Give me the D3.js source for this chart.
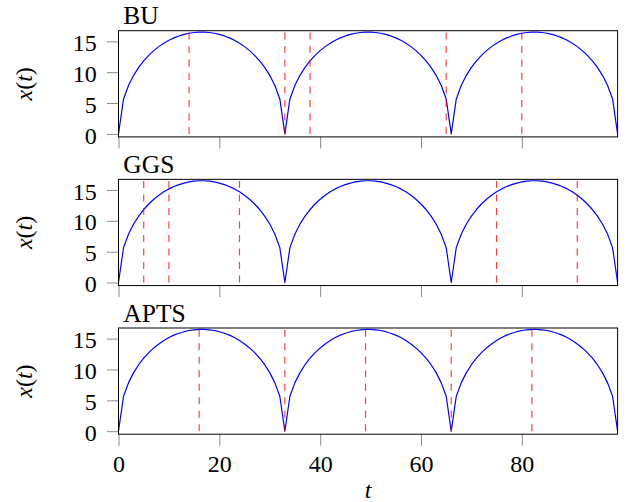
<!DOCTYPE html>
<html>
<head>
<meta charset="utf-8">
<script src="https://cdn.jsdelivr.net/npm/d3@7"></script>
<style>
  html, body { margin: 0; padding: 0; background: #fff; }
  svg { display: block; }
  svg text { font-family: 'Liberation Serif', 'Times New Roman', serif !important; fill: #000; }
</style>
</head>
<body>
<svg id="chart" width="627" height="502"></svg>
<script>
// Time axis: t = 0 .. 99
const tValues = d3.range(0, 100);

// Trajectory x(t): three arches, each returning to zero at t = 33, 66, 99
const xValues = [
  0, 5.66, 7.87, 9.49, 10.77, 11.83, 12.73, 13.49, 14.14, 14.70,
  15.17, 15.56, 15.87, 16.12, 16.31, 16.43, 16.49, 16.49, 16.43, 16.31,
  16.12, 15.87, 15.56, 15.17, 14.70, 14.14, 13.49, 12.73, 11.83, 10.77,
  9.49, 7.87, 5.66, 0, 5.66, 7.87, 9.49, 10.77, 11.83, 12.73,
  13.49, 14.14, 14.70, 15.17, 15.56, 15.87, 16.12, 16.31, 16.43, 16.49,
  16.49, 16.43, 16.31, 16.12, 15.87, 15.56, 15.17, 14.70, 14.14, 13.49,
  12.73, 11.83, 10.77, 9.49, 7.87, 5.66, 0, 5.66, 7.87, 9.49,
  10.77, 11.83, 12.73, 13.49, 14.14, 14.70, 15.17, 15.56, 15.87, 16.12,
  16.31, 16.43, 16.49, 16.49, 16.43, 16.31, 16.12, 15.87, 15.56, 15.17,
  14.70, 14.14, 13.49, 12.73, 11.83, 10.77, 9.49, 7.87, 5.66, 0
];

// Sampling instants chosen by each method
const panelTitles = ["BU", "GGS", "APTS"];
const buTimes   = [14, 33, 38, 65, 80];
const ggsTimes  = [5, 10, 24, 75, 91];
const aptsTimes = [16, 33, 49, 66, 82];
const sampleTimes = [buTimes, ggsTimes, aptsTimes];

// Tick labels
const xTicks = [0, 20, 40, 60, 80];
const yTicks = [0, 5, 10, 15];

const svg = d3.select("#chart");

const left = 118.5, right = 617.6;
const panelTop0 = 30.7, panelStep = 148.65, panelH = 106.2;
const tickLen = 11.5;
const fontSize = 24;
const serif = "'Liberation Serif', 'Times New Roman', serif";

const x = d3.scaleLinear().domain([0, 99]).range([left, right]);

const series = tValues.map((t, i) => ({ t, v: xValues[i] }));

panelTitles.forEach((title, i) => {
  const top = panelTop0 + i * panelStep;
  const bottom = top + panelH;
  const y = d3.scaleLinear().domain([-0.49, 16.72]).range([bottom, top]);
  const isLast = i === panelTitles.length - 1;

  const g = svg.append("g");

  // y axis
  const yAxis = g.append("g")
    .attr("transform", `translate(${left},0)`)
    .call(d3.axisLeft(y).tickValues(yTicks).tickSize(tickLen).tickPadding(10.3));
  yAxis.attr("font-family", null).attr("font-size", null);
  yAxis.select(".domain").remove();
  yAxis.selectAll(".tick line").attr("stroke", "#8a8a8a").attr("stroke-width", 1);
  yAxis.selectAll(".tick text")
    .style("font-family", serif)
    .style("font-size", fontSize + "px")
    .attr("dy", "0.38em")
    .attr("fill", "#000");

  // x axis (labels only on the bottom panel)
  const xAxis = g.append("g")
    .attr("transform", `translate(0,${bottom})`)
    .call(d3.axisBottom(x).tickValues(xTicks).tickSize(tickLen).tickPadding(9.5)
      .tickFormat(isLast ? d3.format("d") : () => ""));
  xAxis.attr("font-family", null).attr("font-size", null);
  xAxis.select(".domain").remove();
  xAxis.selectAll(".tick line").attr("stroke", "#8a8a8a").attr("stroke-width", 1);
  xAxis.selectAll(".tick text")
    .style("font-family", serif)
    .style("font-size", fontSize + "px")
    .attr("fill", "#000");

  // clip to the plot box
  const clipId = "clip" + i;
  svg.append("clipPath").attr("id", clipId)
    .append("rect")
    .attr("x", left).attr("y", top)
    .attr("width", right - left).attr("height", bottom - top);

  const plot = g.append("g").attr("clip-path", `url(#${clipId})`);

  // trajectory
  const line = d3.line().x(d => x(d.t)).y(d => y(d.v));
  plot.append("path")
    .datum(series)
    .attr("fill", "none")
    .attr("stroke", "#0000ff")
    .attr("stroke-width", 1.2)
    .attr("stroke-linejoin", "round")
    .attr("d", line);

  // sampling instants
  plot.selectAll("line.sample")
    .data(sampleTimes[i])
    .enter().append("line")
    .attr("class", "sample")
    .attr("x1", d => x(d)).attr("x2", d => x(d))
    .attr("y1", y(0)).attr("y2", y(16.72))
    .attr("stroke", "#ff0000")
    .attr("stroke-opacity", 0.75)
    .attr("stroke-width", 1.2)
    .attr("stroke-dasharray", "7,6.5");

  // frame
  g.append("rect")
    .attr("x", left).attr("y", top)
    .attr("width", right - left).attr("height", bottom - top)
    .attr("fill", "none")
    .attr("stroke", "#000")
    .attr("stroke-width", 1);

  // panel title
  g.append("text")
    .attr("x", left + 4.8)
    .attr("y", top - 6.4)
    .style("font-family", serif)
    .style("font-size", "25.5px")
    .text(title);

  // y label x(t)
  const yl = g.append("text")
    .attr("transform", `translate(32,${(top + bottom) / 2}) rotate(-90)`)
    .attr("text-anchor", "middle")
    .style("font-family", serif)
    .style("font-size", fontSize + "px");
  yl.append("tspan").style("font-style", "italic").text("x");
  yl.append("tspan").text("(");
  yl.append("tspan").style("font-style", "italic").text("t");
  yl.append("tspan").text(")");
});

// x label
svg.append("text")
  .attr("x", (left + right) / 2)
  .attr("y", 498)
  .attr("text-anchor", "middle")
  .style("font-family", serif)
  .style("font-size", fontSize + "px")
  .style("font-style", "italic")
  .text("t");
</script>
</body>
</html>
